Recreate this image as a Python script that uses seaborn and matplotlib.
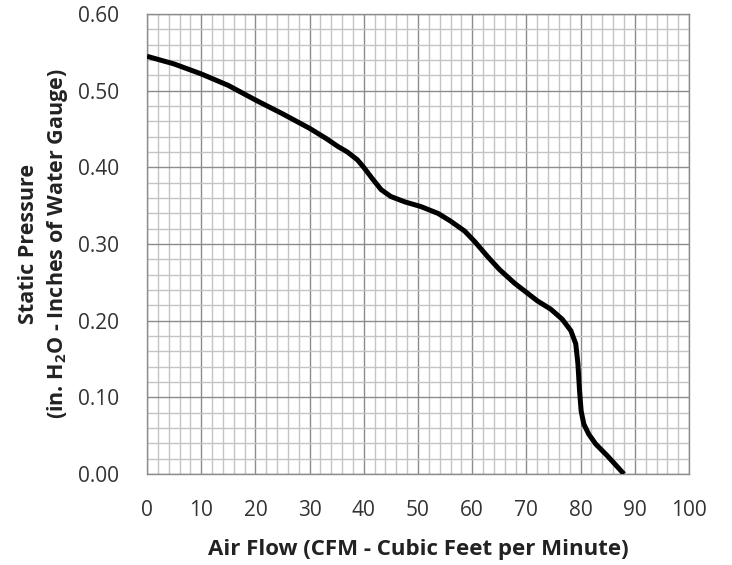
import numpy as np
import pandas as pd
import seaborn as sns
import matplotlib.pyplot as plt
from matplotlib.ticker import MultipleLocator

# curve
air_flow = [0, 5, 10, 15, 20, 25, 30, 33, 35.3, 37, 38.8, 40, 41.5, 43.2, 45, 47.6,
            50.5, 53.7, 56, 58.6, 60.5, 62.8, 65, 67.8, 70, 72, 74.5, 76.6, 78.2, 79.1,
            79.5, 79.8, 80.1, 80.6, 81.5, 82.8, 84.9, 88.0]
static_pressure = [0.545, 0.535, 0.522, 0.507, 0.488, 0.470, 0.451, 0.438, 0.427, 0.420,
                   0.410, 0.400, 0.386, 0.371, 0.362, 0.355, 0.349, 0.340, 0.330, 0.317,
                   0.303, 0.284, 0.267, 0.249, 0.237, 0.226, 0.215, 0.202, 0.187, 0.170,
                   0.144, 0.109, 0.082, 0.065, 0.052, 0.039, 0.024, 0.0]

x_ticks = np.arange(0, 101, 10)
y_ticks = np.arange(0, 0.61, 0.1)

df = pd.DataFrame({'flow': air_flow, 'pressure': static_pressure})

sns.set_style('white')
plt.rcParams['font.family'] = ['Open Sans', 'DejaVu Sans']
plt.rcParams['mathtext.fontset'] = 'custom'
plt.rcParams['mathtext.rm'] = 'Open Sans'
plt.rcParams['mathtext.bf'] = 'Open Sans:bold'

fig = plt.figure(figsize=(7.32, 5.65), dpi=100)
ax = fig.add_axes([0.2008, 0.161, 0.7405, 0.814])

sns.lineplot(data=df, x='flow', y='pressure', ax=ax, color='black', linewidth=3.6,
             sort=False, zorder=5)
ax.lines[0].set_solid_capstyle('butt')
ax.lines[0].set_solid_joinstyle('round')

ax.set_xlim(0, 100)
ax.set_ylim(0, 0.6)
ax.set_xticks(x_ticks)
ax.set_yticks(y_ticks)
ax.set_xticklabels([f'{v:d}' for v in x_ticks])
ax.set_yticklabels([f'{v:.2f}' for v in y_ticks])
ax.xaxis.set_minor_locator(MultipleLocator(2))
ax.yaxis.set_minor_locator(MultipleLocator(0.02))

ax.grid(which='minor', color='#c4c4c4', linewidth=1.0)
ax.grid(which='major', color='#8c8c8c', linewidth=1.0)
ax.set_axisbelow(True)

for s in ax.spines.values():
    s.set_color('#8c8c8c')
    s.set_linewidth(1.0)

ax.tick_params(axis='both', which='major', length=7, width=1, color='#8c8c8c',
               labelsize=15, labelcolor='#333333')
ax.tick_params(axis='both', which='minor', length=0)
ax.tick_params(axis='x', pad=12)
ax.tick_params(axis='y', pad=13)

ax.set_xlabel('Air Flow (CFM - Cubic Feet per Minute)', fontsize=16,
              fontweight='bold', color='#222222', labelpad=13)
ax.set_ylabel('Static Pressure\n(in. H$_\\mathbf{2}$O - Inches of Water Gauge)',
              fontsize=15.5, fontweight='bold', color='#222222', labelpad=6,
              linespacing=1.3)

plt.savefig('out.png', dpi=100)
